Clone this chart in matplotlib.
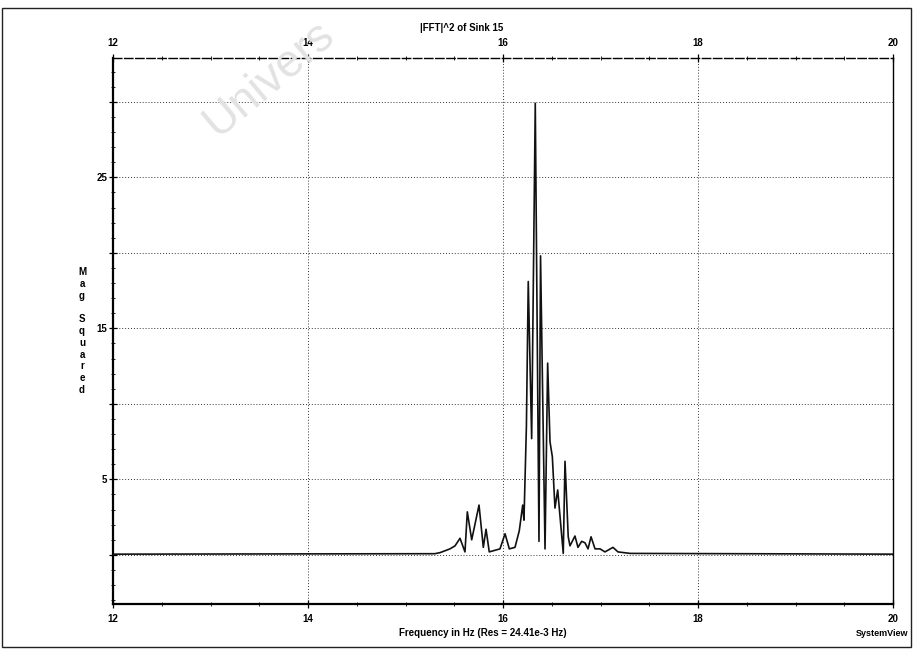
import matplotlib
matplotlib.use("Agg")
import matplotlib.pyplot as plt
from matplotlib.ticker import FixedLocator, FixedFormatter, MultipleLocator
from matplotlib.patches import Rectangle

# ---- data ----
freq = [12.0, 15.30, 15.354, 15.456, 15.508, 15.559, 15.593, 15.610, 15.634, 15.679,
        15.754, 15.798, 15.826, 15.859, 15.969, 16.021, 16.065, 16.123, 16.167,
        16.202, 16.215, 16.240, 16.259, 16.294, 16.331, 16.369, 16.385, 16.431,
        16.458, 16.482, 16.506, 16.533, 16.561, 16.618, 16.636, 16.669, 16.687,
        16.738, 16.769, 16.807, 16.841, 16.872, 16.903, 16.944, 16.995, 17.046,
        17.128, 17.179, 17.303, 20.0]
mag = [0.05, 0.08, 0.15, 0.4, 0.6, 1.1, 0.5, 0.2, 2.85, 1.0,
       3.3, 0.5, 1.7, 0.2, 0.4, 1.4, 0.4, 0.5, 1.6,
       3.3, 2.3, 8.5, 18.1, 7.7, 29.9, 0.9, 19.8, 0.4,
       12.7, 7.5, 6.5, 3.1, 4.3, 0.1, 6.2, 1.2, 0.6,
       1.25, 0.5, 0.9, 0.8, 0.4, 1.2, 0.4, 0.4, 0.2,
       0.5, 0.2, 0.1, 0.05]

x_ticks = [12, 14, 16, 18, 20]
y_ticks = [0, 5, 10, 15, 20, 25, 30]
y_tick_labels = ["", "5", "", "15", "", "25", ""]

title = "|FFT|^2 of Sink 15"
xlabel = "Frequency in Hz (Res = 24.41e-3 Hz)"
ylabel = "Mag Squared"
footer = "SystemView"
watermark = "Univers"

plt.rcParams['font.family'] = ['Liberation Sans', 'DejaVu Sans']

W, H = 914, 651
fig = plt.figure(figsize=(W / 100, H / 100), dpi=100)
fig.patch.set_facecolor("white")

left, right, top, bottom = 113, 893, 58, 604
ax = fig.add_axes([left / W, 1 - bottom / H, (right - left) / W, (bottom - top) / H])

ax.plot(freq, mag, color="#111111", lw=1.2, zorder=3)

ax.set_xlim(12, 20)
ax.set_ylim(-3.25, 32.9)

ax.xaxis.set_major_locator(FixedLocator(x_ticks))
ax.xaxis.set_major_formatter(FixedFormatter([str(t) for t in x_ticks]))
ax.xaxis.set_minor_locator(MultipleLocator(0.5))
ax.yaxis.set_major_locator(FixedLocator(y_ticks))
ax.yaxis.set_major_formatter(FixedFormatter(y_tick_labels))
ax.yaxis.set_minor_locator(MultipleLocator(1))

ax.tick_params(axis="x", which="both", top=True, labeltop=True, bottom=True,
               direction="inout", pad=4)
ax.tick_params(axis="both", which="major", length=6, width=0.9, labelsize=7)
ax.tick_params(axis="both", which="minor", length=3, width=0.6)
ax.tick_params(axis="y", which="both", right=False, direction="inout", pad=1)
for lbl in ax.get_xticklabels() + ax.get_yticklabels():
    lbl.set_fontweight("bold")

ax.grid(True, which="major", color="#333333", linestyle=(0, (1, 2)), lw=0.7)
ax.set_axisbelow(True)

ax.spines["left"].set_linewidth(1.6)
ax.spines["bottom"].set_linewidth(1.6)
ax.spines["top"].set_linewidth(1.0)
ax.spines["top"].set_linestyle((0, (6, 2)))
ax.spines["right"].set_linewidth(1.0)

# title / labels
fig.text(462 / W, 1 - 28 / H, title, ha="center", va="center", fontsize=7, fontweight="bold")
fig.text(483 / W, 1 - 633 / H, xlabel, ha="center", va="center", fontsize=7, fontweight="bold")
fig.text(82 / W, 1 - 331 / H, "\n".join(list(ylabel)), ha="center", va="center",
         fontsize=7, fontweight="bold", linespacing=1.22)
fig.text(908 / W, 1 - 634 / H, footer, ha="right", va="center", fontsize=6.5,
         fontweight="bold")

# watermark
fig.text(196 / W, 1 - 136 / H, watermark, ha="left", va="baseline", fontsize=33,
         rotation=40, color="#e2e2e2", zorder=0)

# outer border
fig.add_artist(Rectangle((2 / W, 1 - 647 / H), 909 / W, 639 / H, transform=fig.transFigure,
                         fill=False, lw=1.0, edgecolor="#222222"))

fig.savefig("out.png", dpi=100)
